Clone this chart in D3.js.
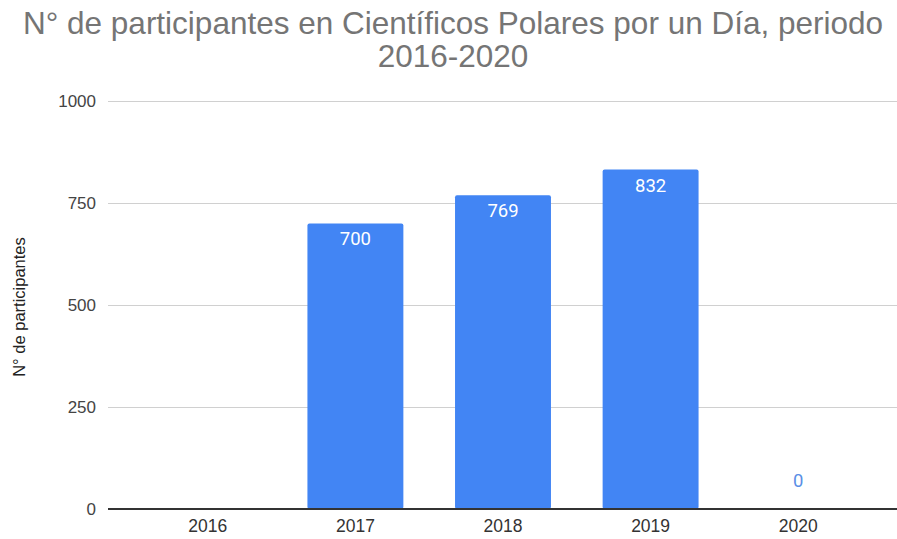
<!DOCTYPE html>
<html>
<head>
<meta charset="utf-8">
<script src="https://cdn.jsdelivr.net/npm/d3@7"></script>
<style>
  html, body { margin: 0; padding: 0; background: #fff; }
  svg { display: block; }
</style>
</head>
<body>
<svg id="chart" width="897" height="539"></svg>
<script>
// Participants per year
const years = ["2016", "2017", "2018", "2019", "2020"];
const participants = [null, 700, 769, 832, 0];
const yTicks = [0, 250, 500, 750, 1000];
const titleLines = ["N° de participantes en Científicos Polares por un Día, periodo", "2016-2020"];
const yAxisTitle = "N° de participantes";

const W = 897, H = 539;
const plot = { left: 108, right: 897, top: 101, bottom: 509 };
const sans = "Liberation Sans, Arial, sans-serif";

const svg = d3.select("#chart");

const x = d3.scaleBand()
  .domain(years)
  .range([134, 872])
  .paddingInner(0.35)
  .paddingOuter(0.175);

const y = d3.scaleLinear()
  .domain([0, 1000])
  .range([plot.bottom, plot.top]);

// Title
svg.append("g")
  .selectAll("text")
  .data(titleLines)
  .join("text")
  .attr("x", 453)
  .attr("y", (d, i) => 34 + i * 33)
  .attr("text-anchor", "middle")
  .attr("font-family", sans)
  .attr("font-size", 31.5)
  .attr("fill", "#757575")
  .text(d => d);

// Gridlines and y tick labels
const yAxis = d3.axisLeft(y)
  .tickValues(yTicks)
  .tickSize(-(plot.right - plot.left))
  .tickPadding(12)
  .tickFormat(d3.format("d"));

const gy = svg.append("g")
  .attr("transform", `translate(${plot.left},0)`)
  .call(yAxis);
gy.select(".domain").remove();
gy.selectAll(".tick line").attr("stroke", "#d0d0d0").attr("stroke-width", 1);
gy.selectAll(".tick text")
  .attr("font-family", sans)
  .attr("font-size", 17)
  .attr("fill", "#444");

// Y axis title
svg.append("text")
  .attr("transform", `translate(25,307) rotate(-90)`)
  .attr("text-anchor", "middle")
  .attr("font-family", sans)
  .attr("font-size", 16.5)
  .attr("fill", "#222")
  .text(yAxisTitle);

const data = years.map((yr, i) => ({ year: yr, value: participants[i] }));

// Bars
svg.append("g")
  .selectAll("rect")
  .data(data.filter(d => d.value != null && d.value > 0))
  .join("rect")
  .attr("x", d => x(d.year))
  .attr("y", d => y(d.value))
  .attr("width", x.bandwidth())
  .attr("height", d => y(0) - y(d.value))
  .attr("rx", 2)
  .attr("fill", "#4285f4");

// Value labels
svg.append("g")
  .selectAll("text")
  .data(data.filter(d => d.value != null))
  .join("text")
  .attr("x", d => x(d.year) + x.bandwidth() / 2)
  .attr("y", d => d.value > 0 ? y(d.value) + 22 : y(0) - 22)
  .attr("text-anchor", "middle")
  .attr("font-family", "Roboto, Arial, sans-serif")
  .attr("font-size", 18.5)
  .attr("fill", d => d.value > 0 ? "#ffffff" : "#5b8fe6")
  .text(d => d.value);

// X axis baseline and labels
const xAxis = d3.axisBottom(x).tickSize(0).tickPadding(11);
const gx = svg.append("g")
  .attr("transform", `translate(0,${plot.bottom})`)
  .call(xAxis);
gx.select(".domain").remove();
gx.selectAll(".tick text")
  .attr("font-family", sans)
  .attr("font-size", 17.5)
  .attr("fill", "#333");

svg.append("line")
  .attr("x1", plot.left)
  .attr("x2", plot.right)
  .attr("y1", y(0))
  .attr("y2", y(0))
  .attr("stroke", "#333")
  .attr("stroke-width", 2);
</script>
</body>
</html>
